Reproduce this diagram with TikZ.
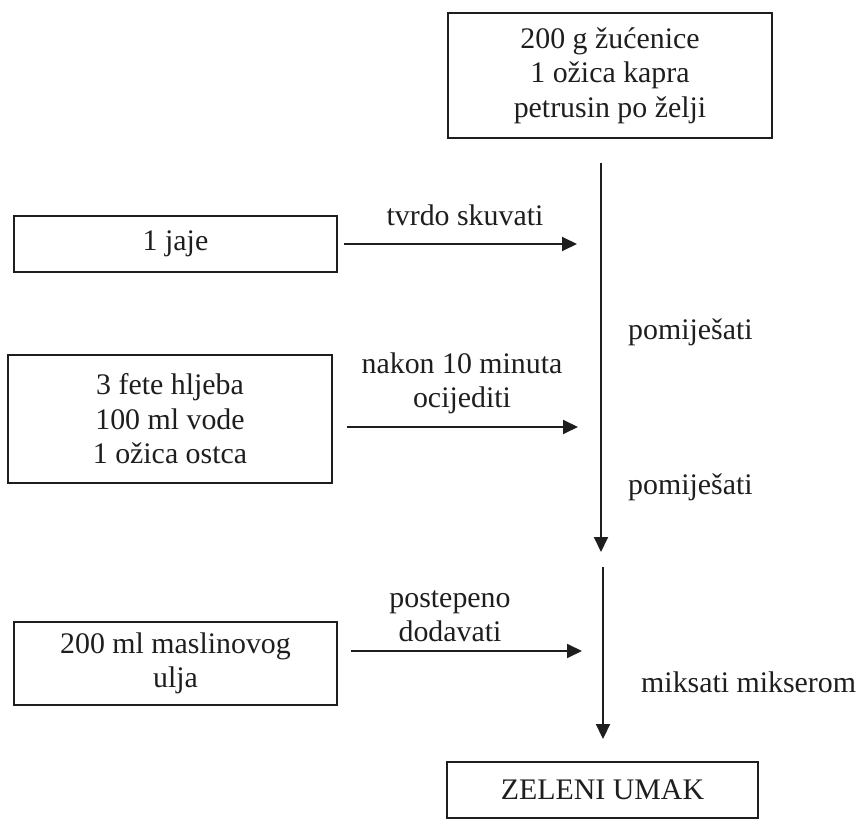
\documentclass[tikz,border=0pt]{standalone}
\usepackage{fontspec}
\setmainfont{Liberation Serif}
\usepackage{tikz}
\usetikzlibrary{arrows.meta, positioning, calc}
\definecolor{myline}{HTML}{1E1E1E}

\begin{document}
\begin{tikzpicture}[
  x=0.02cm, y=-0.02cm,
  every node/.style={font=\fontsize{17}{19.6}\selectfont, text=myline, align=center},
  box/.style={draw=myline, line width=1.1pt, inner sep=0pt},
  arr/.style={-{Triangle[length=0.3cm, width=0.28cm]}, line width=1.1pt, myline}
]
\useasboundingbox (0,0) rectangle (866,820);
% ingredient boxes
\node[box, minimum width=6.48cm, minimum height=2.5cm] (ingr) at (610,75.5)
  {200 g žućenice\\1 ožica kapra\\petrusin po želji};
\node[box, minimum width=6.46cm, minimum height=1.12cm] (jaje) at (175.5,244) {1 jaje};
\node[box, minimum width=6.48cm, minimum height=2.56cm] (hljeb) at (170,419)
  {3 fete hljeba\\100 ml vode\\1 ožica ostca};
\node[box, minimum width=6.46cm, minimum height=1.66cm] (ulje) at (175.5,663.5)
  {200 ml maslinovog\\ulja};
\node[box, minimum width=6.22cm, minimum height=1.12cm] (umak) at (602.5,790) {ZELENI UMAK};

% arrow ends
\coordinate (j1) at (577,244);
\coordinate (h1) at (578,427);
\coordinate (u1) at (582,651);
\coordinate (v1) at (601,552);
\coordinate (v2) at (603,567);

\draw[arr, shorten <=0.12cm] (jaje) -- (j1);
\draw[arr, shorten <=0.28cm] (hljeb.east |- h1) -- (h1);
\draw[arr, shorten <=0.26cm] (ulje.east |- u1) -- (u1);
\draw[arr, shorten <=0.48cm] (ingr.south -| v1) -- (v1);
\draw[arr, shorten >=0.44cm] (v2) -- (umak.north -| v2);

% labels
\node (l1) at (465,215) {tvrdo skuvati};
\node (l2) at (462,383.5) {nakon 10 minuta\\ocijediti};
\node (l3) at (450,616) {postepeno\\dodavati};
\node[anchor=west] (m1) at (622,332) {pomiješati};
\node[anchor=west] (m2) at (622,487) {pomiješati};
\node[anchor=west] (m3) at (635,682) {miksati mikserom};
\end{tikzpicture}
\end{document}
